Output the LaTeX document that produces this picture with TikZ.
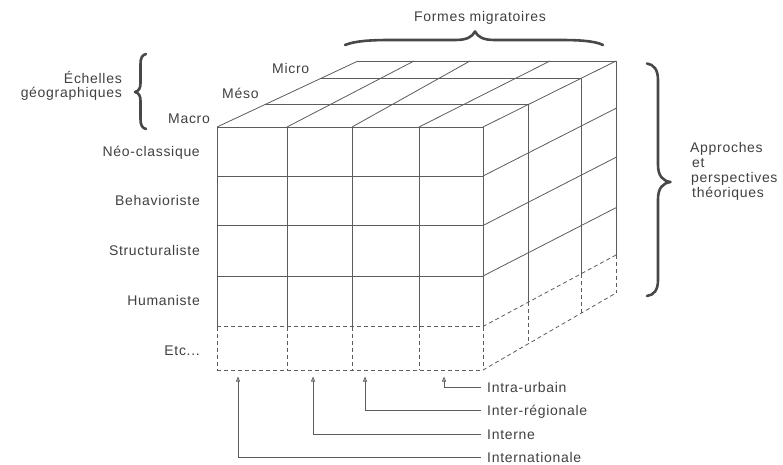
\documentclass[tikz,border=0pt]{standalone}
\usepackage{fontspec}
\setmainfont[LetterSpace=5]{Liberation Sans}
\usetikzlibrary{arrows.meta,calc}
\definecolor{ln}{HTML}{5C5C5C}
\definecolor{tx}{HTML}{404040}
\definecolor{br}{HTML}{484848}
\begin{document}
\begin{tikzpicture}[x=1pt,y=-1pt,
  grid/.style={draw=ln,line width=0.8pt},
  dsh/.style={grid,dash pattern=on 4pt off 3pt},
  lbl/.style={font=\fontsize{14}{15}\selectfont,text=tx,inner sep=0pt},
  botlbl/.style={lbl,anchor=west,inner xsep=6pt,text height=10pt,text depth=0pt},
  bracepath/.style={draw=br,line width=2.6pt,line cap=round,line join=round},
  conn/.style={draw=ln,line width=0.8pt,-{Triangle[open,length=5pt,width=4pt]}}]
\useasboundingbox (0,0) rectangle (783,464);

% ---- front face
\foreach \y in {127,176,225.5,276} \draw[grid] (217,\y) -- (483,\y);
\foreach \x in {217,287,352,419,483} {
  \draw[grid] (\x,127) -- (\x,326.5);
  \draw[dsh] (\x,326.5) -- (\x,370);
}
\draw[dsh] (217,326.5) -- (483,326.5);
\draw[dsh] (217,370) -- (483,370);

% ---- top face
\draw[grid] (358,61) -- (616,61);
\draw[grid] (265.3,104.3) -- (528.5,104.3);
\draw[grid] (320.6,78.3) -- (581,78.3);
\foreach \a/\b in {217/358,287/414,352/470,419/550,483/616}
  \draw[grid] (\a,127) -- (\b,61);

% ---- right face
\foreach \r/\f/\b in {0/127/61,1/176/108.3,2/225.5/157.3,3/276/207.7,4/326.5/255,5/370/293} {
  \coordinate (F\r) at (483,\f);
  \coordinate (B\r) at (616,\b);
}
\draw[grid] (F1) -- (B1);
\draw[grid] (F2) -- (B2);
\draw[grid] (F3) -- (B3);
\draw[dsh] (F4) -- (B4);
\draw[dsh] (F5) -- (B5);
\foreach \t in {0.342,0.737} {
  \draw[grid] ($(F0)!\t!(B0)$) -- ($(F4)!\t!(B4)$);
  \draw[dsh] ($(F4)!\t!(B4)$) -- ($(F5)!\t!(B5)$);
}
\draw[grid] (B0) -- (B4);
\draw[dsh] (B4) -- (B5);

% ---- braces
\draw[bracepath] (345,45) .. controls (355,41) and (370,40) .. (390,40) -- (455,40)
  .. controls (467,40) and (472,37) .. (475,31.5) .. controls (478,37) and (483,40) .. (495,40)
  -- (560,40) .. controls (580,40) and (595,41) .. (603,45);
\draw[bracepath] (146,54) .. controls (142,55) and (140.5,58) .. (140.5,64) -- (140.5,83)
  .. controls (140.5,88) and (139,91) .. (135,92) .. controls (139,93) and (140.5,96) .. (140.5,101)
  -- (140.5,119) .. controls (140.5,125) and (142,128) .. (146,129);
\draw[bracepath] (647,63.5) .. controls (654,64.5) and (658,70) .. (658,80) -- (658,165)
  .. controls (658,176) and (663,181) .. (670.5,182) .. controls (663,183) and (658,188) .. (658,199)
  -- (658,280) .. controls (658,290) and (654,295) .. (647,296);

% ---- labels
\node[lbl,anchor=base] (formes) at (480,21) {Formes migratoires};
\node[lbl,anchor=base east] (ech1) at (122,83) {Échelles};
\node[lbl,anchor=base east] (ech2) at (122,97) {géographiques};
\node[lbl,anchor=base west] (micro) at (272,73) {Micro};
\node[lbl,anchor=base west] (meso) at (222,98) {Méso};
\node[lbl,anchor=base west] (macro) at (168,123) {Macro};
\node[lbl,anchor=base east] (neo) at (200,156) {Néo-classique};
\node[lbl,anchor=base east] (beh) at (200,205.5) {Behavioriste};
\node[lbl,anchor=base east] (str) at (200,255.5) {Structuraliste};
\node[lbl,anchor=base east] (hum) at (200,305.5) {Humaniste};
\node[lbl,anchor=base east] (etc) at (200,355) {Etc...};
\node[lbl,anchor=base west] (ap1) at (690,152) {Approches};
\node[lbl,anchor=base west] (ap2) at (692,167) {et};
\node[lbl,anchor=base west] (ap3) at (691,182) {perspectives};
\node[lbl,anchor=base west] (ap4) at (692,197) {théoriques};

% ---- bottom labels and connectors
\node[botlbl] (intra) at (481,387) {Intra-urbain};
\node[botlbl] (inter) at (481,410.5) {Inter-régionale};
\node[botlbl] (interne) at (481,434) {Interne};
\node[botlbl] (intl) at (481,457) {Internationale};
\coordinate (t1) at (444,376.5);
\coordinate (t2) at (365,376.5);
\coordinate (t3) at (313,376.5);
\coordinate (t4) at (238,376.5);
\draw[conn] (intra.west) -| (t1);
\draw[conn] (inter.west) -| (t2);
\draw[conn] (interne.west) -| (t3);
\draw[conn] (intl.west) -| (t4);
\end{tikzpicture}
\end{document}
